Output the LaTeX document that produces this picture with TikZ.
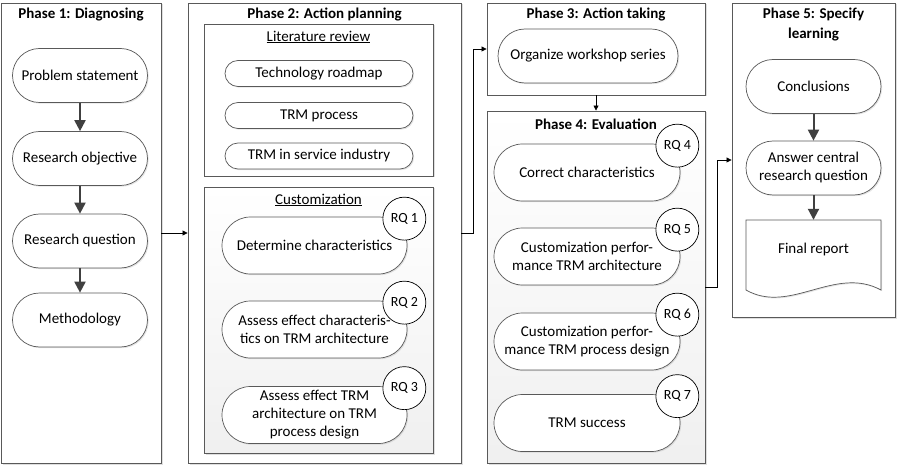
\documentclass[tikz,border=0pt]{standalone}
\usepackage{fontspec}
\setmainfont{Carlito}
\usetikzlibrary{arrows.meta,shadows}
\definecolor{linegray}{HTML}{595959}
\definecolor{arrowgray}{HTML}{404040}
\tikzset{
  phase/.style={draw=linegray, fill=white, line width=0.9pt, inner sep=0pt,
    drop shadow={shadow xshift=1.5pt, shadow yshift=-1.5pt, opacity=0.25}},
  subbox/.style={phase, top color=white, bottom color=black!6},
  pill/.style={draw=linegray, fill=white, line width=0.7pt, inner sep=0pt, align=center,
    minimum width=135pt, minimum height=54pt, rounded corners=27pt,
    drop shadow={shadow xshift=1.2pt, shadow yshift=-1.2pt, opacity=0.2}},
  rq/.style={circle, draw=black, fill=white, line width=0.7pt, inner sep=0pt,
    minimum size=43pt, font=\fontsize{14}{16}\selectfont},
  flow/.style={draw=arrowgray, line width=2pt, -{Triangle[width=11pt,length=11pt]}},
  conn/.style={draw=black, line width=0.8pt, -{Triangle[width=5pt,length=5pt]}},
  title/.style={font=\fontsize{15}{20}\selectfont\bfseries, align=center}
}
\begin{document}
\begin{tikzpicture}[x=1pt,y=-1pt,every node/.append style={font=\fontsize{15}{18}\selectfont}]
  \useasboundingbox (0,0) rectangle (901,470);
  % Phase boxes
  \node[phase, minimum width=160pt, minimum height=460pt] (ph1) at (81,233) {};
  \node[phase, minimum width=273pt, minimum height=460pt] (ph2) at (324.5,233) {};
  \node[phase, minimum width=218pt, minimum height=92pt] (ph3) at (596,49) {};
  \node[subbox, minimum width=218pt, minimum height=352pt] (ph4) at (596,287) {};
  \node[phase, minimum width=163pt, minimum height=314pt] (ph5) at (813.5,160) {};
  \node[title] (t1) at (81,15) {Phase 1: Diagnosing};
  \node[title] (t2) at (324.5,15) {Phase 2: Action planning};
  \node[title] (t3) at (596,15) {Phase 3: Action taking};
  \node[title] (t4) at (596,124) {Phase 4: Evaluation};
  \node[title] (t5) at (813.5,25) {Phase 5: Specify\\learning};

  % Phase 1: Diagnosing
  \node[pill] (prob) at (80,75.5) {Problem statement};
  \node[pill] (obj) at (80,158.5) {Research objective};
  \node[pill] (quest) at (80,241) {Research question};
  \node[pill] (meth) at (80,320) {Methodology};
  \draw[flow] (prob) -- (obj);
  \draw[flow] (obj) -- (quest);
  \draw[flow] (quest) -- (meth);

  % Phase 2: Literature review
  \node[phase, minimum width=229pt, minimum height=152pt] (lit) at (318.5,100) {};
  \node (littitle) at (318.5,37) {\underline{Literature review}};
  \node[pill, minimum width=188pt, minimum height=26pt, rounded corners=13pt] (roadmap) at (319,73.5) {Technology roadmap};
  \node[pill, minimum width=188pt, minimum height=26pt, rounded corners=13pt] (trmproc) at (319,115.5) {TRM process};
  \node[pill, minimum width=188pt, minimum height=26pt, rounded corners=13pt] (service) at (319,156) {TRM in service industry};

  % Phase 2: Customization
  \node[subbox, minimum width=229pt, minimum height=266pt] (cust) at (318.5,320) {};
  \node (custtitle) at (318.5,200) {\underline{Customization}};
  \node[pill, minimum width=185pt, minimum height=57pt, rounded corners=28.5pt] (determ) at (314.5,245.5) {Determine characteristics};
  \node[pill, minimum width=185pt, minimum height=57pt, rounded corners=28.5pt] (assess1) at (314.5,329.5) {Assess effect characteris-\\tics on TRM architecture};
  \node[pill, minimum width=185pt, minimum height=57pt, rounded corners=28.5pt] (assess2) at (314.5,415) {Assess effect TRM\\architecture on TRM\\process design};
  \node[rq] (rq1) at ([shift={(-3,2)}]determ.north east) {RQ 1};
  \node[rq] (rq2) at ([shift={(-3,2)}]assess1.north east) {RQ 2};
  \node[rq] (rq3) at ([shift={(-3,2)}]assess2.north east) {RQ 3};

  % Phase 3: Action taking
  \node[pill, minimum width=180pt] (workshop) at (588,56) {Organize workshop series};

  % Phase 4: Evaluation
  \node[pill, minimum width=186pt, minimum height=57pt, rounded corners=28.5pt] (correct) at (587,172.5) {Correct characteristics};
  \node[pill, minimum width=186pt, minimum height=57pt, rounded corners=28.5pt] (perfarch) at (587,256.5) {Customization perfor-\\mance TRM architecture};
  \node[pill, minimum width=186pt, minimum height=57pt, rounded corners=28.5pt] (perfproc) at (587,341.5) {Customization perfor-\\mance TRM process design};
  \node[pill, minimum width=186pt, minimum height=57pt, rounded corners=28.5pt] (success) at (587,423) {TRM success};
  \node[rq] (rq4) at ([shift={(-3,2)}]correct.north east) {RQ 4};
  \node[rq] (rq5) at ([shift={(-3,2)}]perfarch.north east) {RQ 5};
  \node[rq] (rq6) at ([shift={(-3,2)}]perfproc.north east) {RQ 6};
  \node[rq] (rq7) at ([shift={(-3,2)}]success.north east) {RQ 7};

  % Phase 5: Specify learning
  \node[pill] (concl) at (813.5,86.5) {Conclusions};
  \node[pill] (answer) at (813.5,168) {Answer central\\research question};
  % Document shape
  \draw[draw=linegray, fill=white, line width=0.7pt,
    drop shadow={shadow xshift=1.2pt, shadow yshift=-1.2pt, opacity=0.2}]
    (746,220) -- (881,220) -- (881,290) .. controls (835,265) and (790,315) .. (746,290) -- cycle;
  \node[minimum width=135pt, minimum height=60pt] (report) at (813.5,250) {Final report};
  \draw[flow] (concl) -- (answer);
  \draw[flow] (answer) -- (report);

  % Connectors between phases
  \draw[conn] (ph1.east) -- (ph2.west);
  \draw[conn] (ph2.east) -- ++(12,0) |- (ph3.west);
  \draw[conn] (ph3.south) -- (ph4.north);
  \draw[conn] (ph4.east) -- ++(12,0) |- (ph5.west);
\end{tikzpicture}
\end{document}
